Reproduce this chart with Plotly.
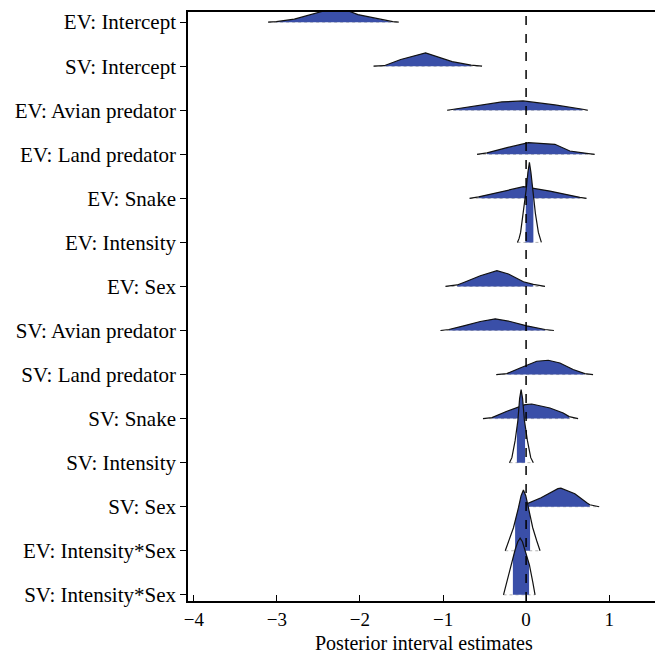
import numpy as np
import plotly.graph_objects as go

# Parameter names, top to bottom
names = [
    "EV: Intercept", "SV: Intercept", "EV: Avian predator", "EV: Land predator",
    "EV: Snake", "EV: Intensity", "EV: Sex", "SV: Avian predator",
    "SV: Land predator", "SV: Snake", "SV: Intensity", "SV: Sex",
    "EV: Intensity*Sex", "SV: Intensity*Sex",
]

# Density curve support points (posterior values)
curve_x = [
    [-3.105, -3.006, -2.790, -2.551, -2.443, -2.287, -2.132, -2.024, -1.784, -1.605, -1.533],
    [-1.836, -1.709, -1.509, -1.210, -0.890, -0.662, -0.530],
    [-0.950, -0.874, -0.290, -0.036, 0.347, 0.683, 0.743],
    [-0.590, -0.470, -0.230, 0.028, 0.347, 0.527, 0.727, 0.826],
    [-0.680, -0.571, -0.032, 0.108, 0.287, 0.647, 0.727],
    [-0.104, -0.084, -0.066, -0.032, 0.000, 0.022, 0.040, 0.058, 0.080, 0.112, 0.148, 0.166, 0.184],
    [-0.970, -0.830, -0.751, -0.551, -0.351, -0.212, -0.032, 0.087, 0.228],
    [-1.030, -0.930, -0.751, -0.551, -0.371, -0.192, 0.008, 0.228, 0.335],
    [-0.359, -0.231, -0.072, 0.128, 0.267, 0.407, 0.566, 0.707, 0.806],
    [-0.519, -0.411, -0.231, -0.012, 0.068, 0.287, 0.447, 0.519, 0.626],
    [-0.200, -0.171, -0.132, -0.099, -0.078, -0.060, -0.042, -0.020, 0.016, 0.056, 0.087],
    [0.012, 0.012, 0.180, 0.383, 0.419, 0.587, 0.731, 0.766, 0.880],
    [-0.251, -0.212, -0.152, -0.092, -0.060, -0.032, -0.004, 0.028, 0.080, 0.128, 0.168],
    [-0.272, -0.231, -0.183, -0.132, -0.100, -0.072, -0.044, -0.012, 0.040, 0.080, 0.108],
]
# Relative density heights at those points
curve_h = [
    [0, 0.5, 3, 8, 11, 12.5, 11, 7.5, 3.2, 0.5, 0],
    [0, 0.5, 6.7, 13.3, 4.5, 1, 0],
    [0, 1, 8.3, 9.3, 5.3, 1, 0],
    [0, 1.5, 6.6, 11.6, 10, 3.3, 1, 0],
    [0, 1.5, 11.6, 10, 7.3, 1, 0],
    [0, 4, 10, 29, 52, 70, 80, 70, 52, 29, 10, 4, 0],
    [0, 1.5, 4, 10.7, 15.7, 12.4, 4.7, 2, 0],
    [0, 1, 4.7, 9, 11.7, 9, 4.7, 1, 0],
    [0, 1, 6.6, 13.3, 14.3, 11.6, 5, 1, 0],
    [0, 1, 7.3, 14, 14.6, 10.6, 5.6, 2, 0],
    [0, 5, 22, 42, 64, 73, 64, 42, 22, 5, 0],
    [0, 3, 9, 18, 18.5, 13, 4, 2, 0],
    [0, 10, 23, 43, 55, 60.7, 55, 43, 23, 10, 0],
    [0, 13, 30, 45, 53, 56.6, 53, 45, 30, 13, 0],
]
# Shaded interval bounds
interval_lo = [-3.006, -1.709, -0.874, -0.470, -0.571, -0.008, -0.830, -0.930,
               -0.231, -0.411, -0.111, 0.012, -0.132, -0.159]
interval_hi = [-1.605, -0.662, 0.683, 0.727, 0.647, 0.088, 0.087, 0.228,
               0.707, 0.519, -0.012, 0.766, 0.048, 0.036]

x_ticks = [-4, -3, -2, -1, 0, 1]
x_title = "Posterior interval estimates"

HEIGHT_SCALE = 1 / 44.0
FILL = "#3A4FA8"
FONT = "Liberation Serif"

n = len(names)
fig = go.Figure()

for i, name in enumerate(names):
    base = n - 1 - i
    xs = np.array(curve_x[i], dtype=float)
    hs = np.array(curve_h[i], dtype=float) * HEIGHT_SCALE
    lo, hi = interval_lo[i], interval_hi[i]
    # thin baseline
    fig.add_trace(go.Scatter(x=[xs[0], xs[-1]], y=[base, base], mode="lines",
                             line=dict(color="#b5b5b5", width=1, dash="dot"),
                             hoverinfo="skip", showlegend=False))
    # shaded interval
    inside = (xs > lo) & (xs < hi)
    fx = np.concatenate([[lo, lo], xs[inside], [hi, hi]])
    fy = np.concatenate([[base, base + np.interp(lo, xs, hs)], base + hs[inside],
                         [base + np.interp(hi, xs, hs), base]])
    fig.add_trace(go.Scatter(x=fx, y=fy, mode="lines", fill="toself",
                             fillcolor=FILL, line=dict(width=0, color=FILL),
                             hoverinfo="skip", showlegend=False))
    # outline
    fig.add_trace(go.Scatter(x=xs, y=base + hs, mode="lines",
                             line=dict(color="#111111", width=1.2),
                             name=name, showlegend=False))

fig.add_shape(type="line", x0=0, x1=0, y0=0, y1=1, xref="x", yref="paper",
              line=dict(color="black", width=1.5, dash="dash"), layer="above")

fig.add_annotation(text=x_title, x=0.5, xref="paper", y=-0.072, yref="paper",
                   xanchor="center", yanchor="middle", showarrow=False,
                   font=dict(family=FONT, size=20, color="black"))

# the page body adds an 8px offset, so the figure is sized/placed to compensate
fig.update_layout(
    width=655, height=647,
    margin=dict(l=180, r=4, t=4, b=54),
    plot_bgcolor="white", paper_bgcolor="white",
    font=dict(family=FONT, size=21, color="black"),
    xaxis=dict(range=[-4.07, 1.6], tickvals=x_ticks,
               ticktext=[("\u2212" + str(abs(v))) if v < 0 else str(v) for v in x_ticks],
               tickfont=dict(size=19),
               ticks="inside", ticklen=6, tickwidth=1.3, tickcolor="black",
               showline=True, linecolor="black", linewidth=1.6, mirror=True,
               showgrid=False, zeroline=False, automargin=False),
    yaxis=dict(range=[-0.14, 13.23], tickvals=list(range(n - 1, -1, -1)),
               ticktext=names, ticks="outside", ticklen=6, tickwidth=1.3,
               tickcolor="black", showline=True, linecolor="black", linewidth=1.6,
               mirror=True, showgrid=False, zeroline=False, automargin=False),
)

fig.write_html("out.html")
